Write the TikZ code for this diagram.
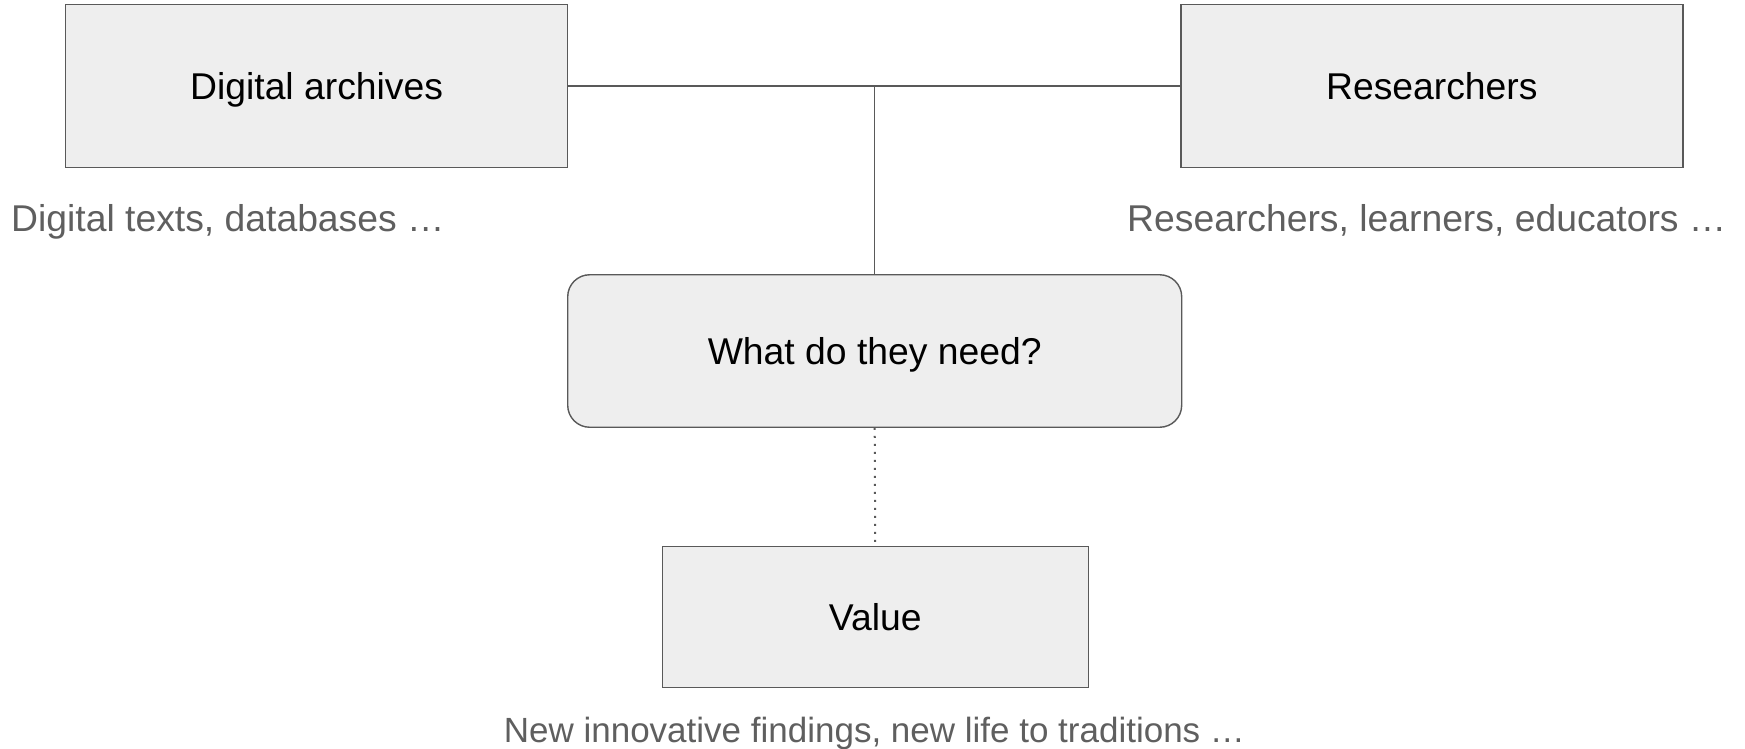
\documentclass[tikz,border=0pt]{standalone}
\usepackage{fontspec}
\setmainfont{Liberation Sans}
\definecolor{boxfill}{HTML}{EEEEEE}
\definecolor{edge}{HTML}{595959}
\definecolor{note}{HTML}{5F5F5F}
\begin{document}
\begin{tikzpicture}[x=1pt,y=-1pt,
  box/.style={draw=edge,line width=1.4pt,fill=boxfill,inner sep=0pt,
    font=\fontsize{37.3}{42}\selectfont,text=black,text height=27pt,text depth=0pt},
  notetext/.style={inner sep=0pt,font=\fontsize{37.3}{42}\selectfont,text=note},
  link/.style={draw=edge,line width=1.4pt}]
\useasboundingbox (0,0) rectangle (1745,749);
\node[box,minimum width=502pt,minimum height=163pt] (da) at (316.6,86.2) {Digital archives};
\node[box,minimum width=502pt,minimum height=163pt] (re) at (1431.8,86.2) {Researchers};
\node[box,rounded corners=22pt,minimum width=614pt,minimum height=152.5pt] (q) at (874.7,351) {What do they need?};
\node[box,minimum width=426pt,minimum height=141pt] (v) at (875.2,617) {Value};
\node[notetext,anchor=base west] (dan) at (11,231) {Digital texts, databases …};
\node[notetext,anchor=base west] (ren) at (1127,231) {Researchers, learners, educators …};
\node[notetext,anchor=base,font=\fontsize{35}{40}\selectfont] (vn) at (874.5,742) {New innovative findings, new life to traditions …};
\coordinate (j) at (q.north |- da.east);
\draw[link] (da.east) -- (re.west);
\draw[link] (j) -- (q.north);
\draw[draw=edge,line width=2pt,dash pattern=on 2pt off 6pt] (q.south) -- (v.north);
\end{tikzpicture}
\end{document}
